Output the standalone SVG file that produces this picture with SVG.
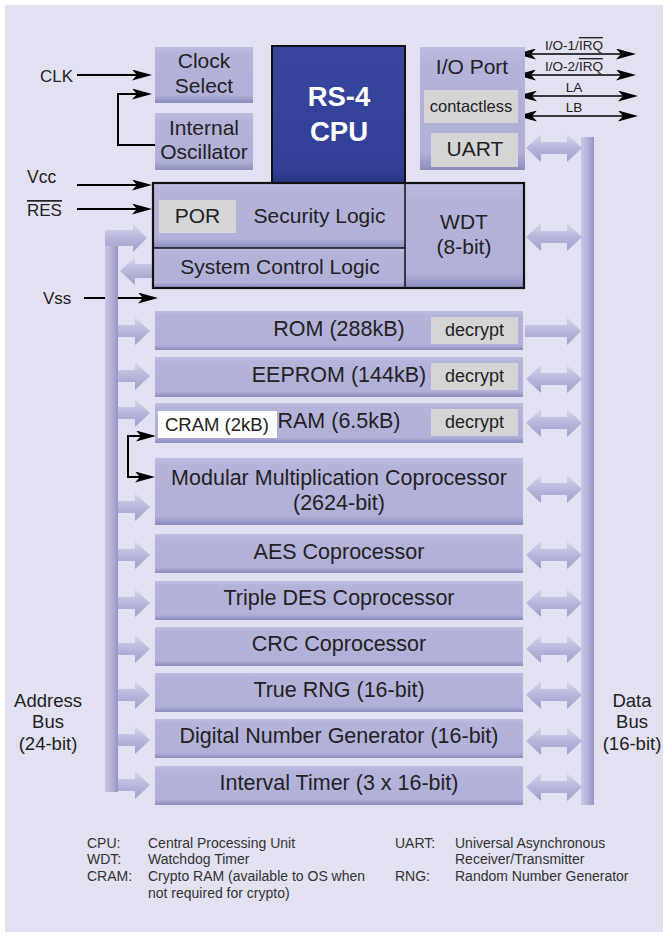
<svg xmlns="http://www.w3.org/2000/svg" width="668" height="937" viewBox="0 0 668 937">
<defs>
<linearGradient id="gBlk" x1="0" y1="0" x2="0" y2="1">
<stop offset="0" stop-color="#bebee1"/>
<stop offset="0.12" stop-color="#b4b4da"/>
<stop offset="0.86" stop-color="#b0b0d8"/>
<stop offset="1" stop-color="#8c8cbe"/>
</linearGradient>
<linearGradient id="gBus" x1="0" y1="0" x2="1" y2="0">
<stop offset="0" stop-color="#c8c8e6"/>
<stop offset="0.5" stop-color="#b3b3d9"/>
<stop offset="1" stop-color="#9494c4"/>
</linearGradient>
<linearGradient id="gArr" x1="0" y1="0" x2="0" y2="1">
<stop offset="0" stop-color="#d6d6ed"/>
<stop offset="0.45" stop-color="#babadd"/>
<stop offset="1" stop-color="#9e9ecb"/>
</linearGradient>
<linearGradient id="gCpu" x1="0" y1="0" x2="0" y2="1">
<stop offset="0" stop-color="#3a47a0"/>
<stop offset="0.9" stop-color="#313e96"/>
<stop offset="1" stop-color="#27337f"/>
</linearGradient>
<marker id="ah" markerUnits="userSpaceOnUse" markerWidth="20" markerHeight="11" refX="16" refY="5.5" orient="auto-start-reverse">
<path d="M0,0 L20,5.5 L0,11 L5,5.5 Z" fill="#000"/>
</marker>
<path id="dbl" d="M0,0 L15,-14 L15,-6 L41,-6 L41,-14 L56,0 L41,14 L41,6 L15,6 L15,14 Z"/>
<path id="rgt" d="M0,-6 L17,-6 L17,-14 L32,0 L17,14 L17,6 L0,6 Z"/>
<path id="rgtL" d="M0,-6 L42,-6 L42,-14 L56,0 L42,14 L42,6 L0,6 Z"/>
<path id="lft" d="M0,0 L15,-14 L15,-7 L33,-7 L33,7 L15,7 L15,14 Z"/>
</defs>
<style>
.bg{fill:#e1e1f1}
.blk{fill:url(#gBlk)}
.gry{fill:#d5d5d5}
.bus{fill:url(#gBus)}
.arr{fill:url(#gArr)}
text{font-family:"Liberation Sans",Arial,Helvetica,sans-serif;fill:#222}
.b{font-size:21px;text-anchor:middle}
.r{font-size:21.5px;text-anchor:middle}
.m{text-anchor:middle}
.ln{stroke:#000;stroke-width:2;fill:none;marker-end:url(#ah)}
.sig{stroke:#000;stroke-width:1.3;fill:none;marker-start:url(#ah);marker-end:url(#ah)}
.lg{font-size:14px;fill:#333}
.ol{text-decoration:overline}
</style>

<rect class="bg" x="5" y="5" width="658" height="927"/>

<g id="connectors">
<line class="ln" x1="77" y1="75" x2="148" y2="75"/>
<path class="ln" d="M155,145 L118,145 L118,94 L148,94"/>
<line class="ln" x1="77" y1="185" x2="148" y2="185"/>
<line class="ln" x1="77" y1="209" x2="148" y2="209"/>
<line class="ln" x1="84" y1="298" x2="154" y2="298"/>
<path class="ln" d="M152,436 L128,436 L128,477 L151,477" style="marker-start:url(#ah)"/>
<line class="sig" x1="520" y1="54" x2="632" y2="54"/>
<line class="sig" x1="520" y1="75" x2="632" y2="75"/>
<line class="sig" x1="521" y1="96" x2="634" y2="96"/>
<line class="sig" x1="521" y1="116" x2="634" y2="116"/>
<text x="574" y="50" class="m" font-size="13.5">I/O-1/<tspan class="ol">IRQ</tspan></text>
<text x="574" y="71" class="m" font-size="13.5">I/O-2/<tspan class="ol">IRQ</tspan></text>
<text x="574" y="92" class="m" font-size="13.5">LA</text>
<text x="574" y="112" class="m" font-size="13.5">LB</text>
</g>

<g id="pins">
<text x="40" y="82" font-size="17">CLK</text>
<text x="27" y="183" font-size="17.5">Vcc</text>
<text x="27" y="216" font-size="17" class="ol">RES</text>
<text x="43" y="304" font-size="17">Vss</text>
</g>

<g id="address-bus">
<rect class="bus" x="105" y="230" width="13" height="562"/>
<path class="arr" d="M105,230 L133,230 L133,224 L147,238 L133,252 L133,246 L105,246 Z"/>
<use href="#lft" class="arr" x="120" y="271"/>
<use href="#rgt" class="arr" x="118" y="331"/>
<use href="#rgt" class="arr" x="118" y="376"/>
<use href="#rgt" class="arr" x="118" y="413"/>
<use href="#rgt" class="arr" x="118" y="507"/>
<use href="#rgt" class="arr" x="118" y="555"/>
<use href="#rgt" class="arr" x="118" y="603"/>
<use href="#rgt" class="arr" x="118" y="649"/>
<use href="#rgt" class="arr" x="118" y="695"/>
<use href="#rgt" class="arr" x="118" y="740"/>
<use href="#rgt" class="arr" x="118" y="785"/>
<text x="48" y="707" font-size="18.5" class="m">Address</text>
<text x="48" y="728" font-size="18.5" class="m">Bus</text>
<text x="48" y="750" font-size="18.5" class="m">(24-bit)</text>
</g>

<g id="data-bus">
<rect class="bus" x="581" y="137" width="13" height="668"/>
<use href="#dbl" class="arr" x="526" y="148"/>
<use href="#dbl" class="arr" x="526" y="237"/>
<use href="#rgtL" class="arr" x="525" y="331"/>
<use href="#dbl" class="arr" x="526" y="379"/>
<use href="#dbl" class="arr" x="526" y="423"/>
<use href="#dbl" class="arr" x="526" y="489"/>
<use href="#dbl" class="arr" x="526" y="555"/>
<use href="#dbl" class="arr" x="526" y="603"/>
<use href="#dbl" class="arr" x="526" y="649"/>
<use href="#dbl" class="arr" x="526" y="695"/>
<use href="#dbl" class="arr" x="526" y="741"/>
<use href="#dbl" class="arr" x="526" y="787"/>
<text x="632" y="707" font-size="18.5" class="m">Data</text>
<text x="632" y="728" font-size="18.5" class="m">Bus</text>
<text x="632" y="750" font-size="18.5" class="m">(16-bit)</text>
</g>

<g id="clock-select">
<rect class="blk" x="155" y="47" width="98" height="56"/>
<text x="204" y="68" class="b">Clock</text>
<text x="204" y="93" class="b">Select</text>
</g>
<g id="internal-oscillator">
<rect class="blk" x="155" y="113" width="98" height="57"/>
<text x="204" y="135" class="b">Internal</text>
<text x="204" y="159" class="b">Oscillator</text>
</g>

<g id="cpu">
<rect x="272" y="46" width="133" height="138" fill="url(#gCpu)" stroke="#111" stroke-width="2"/>
<text x="339" y="106" font-size="27.5" font-weight="bold" class="m" style="fill:#fff">RS-4</text>
<text x="339" y="141" font-size="27.5" font-weight="bold" class="m" style="fill:#fff">CPU</text>
</g>

<g id="io-port">
<rect class="blk" x="420" y="47" width="105" height="123"/>
<text x="472" y="74" class="b">I/O Port</text>
<rect class="gry" x="424" y="90" width="94" height="33"/>
<text x="471" y="112" font-size="16.5" class="m">contactless</text>
<rect class="gry" x="431" y="133" width="87" height="34"/>
<text x="475" y="156" class="b">UART</text>
</g>

<g id="security-block">
<rect class="blk" x="153" y="183" width="252" height="65"/>
<rect class="blk" x="153" y="248" width="252" height="40"/>
<rect class="blk" x="405" y="183" width="119" height="105"/>
<rect class="gry" x="159" y="200" width="77" height="33"/>
<text x="197.5" y="223" class="b">POR</text>
<text x="319.5" y="223" class="b">Security Logic</text>
<text x="280" y="274" class="b">System Control Logic</text>
<text x="464" y="229" class="b">WDT</text>
<text x="464" y="254" class="b">(8-bit)</text>
<line x1="153" y1="248" x2="405" y2="248" stroke="#111" stroke-width="1.5"/>
<line x1="405" y1="183" x2="405" y2="288" stroke="#111" stroke-width="1.5"/>
<rect x="153" y="183" width="371" height="105" fill="none" stroke="#111" stroke-width="2.2"/>
</g>

<g id="rom">
<rect class="blk" x="155" y="311" width="368" height="39"/>
<text x="339" y="336" class="r">ROM (288kB)</text>
<rect class="gry" x="431" y="317" width="87" height="27"/>
<text x="474.5" y="336" font-size="18" class="m">decrypt</text>
</g>
<g id="eeprom">
<rect class="blk" x="155" y="357" width="368" height="40"/>
<text x="339" y="382" class="r">EEPROM (144kB)</text>
<rect class="gry" x="431" y="363" width="87" height="27"/>
<text x="474.5" y="382" font-size="18" class="m">decrypt</text>
</g>
<g id="ram">
<rect class="blk" x="155" y="403" width="368" height="40"/>
<text x="339" y="428" class="r">RAM (6.5kB)</text>
<rect class="gry" x="431" y="409" width="87" height="27"/>
<text x="474.5" y="428" font-size="18" class="m">decrypt</text>
<rect x="158" y="411" width="119" height="27" fill="#fff"/>
<text x="165" y="431" font-size="18.5">CRAM (2kB)</text>
</g>
<g id="mmc">
<rect class="blk" x="155" y="458" width="368" height="67"/>
<text x="339" y="485" class="r">Modular Multiplication Coprocessor</text>
<text x="339" y="510" class="r">(2624-bit)</text>
</g>
<g id="aes">
<rect class="blk" x="155" y="534" width="368" height="39"/>
<text x="339" y="559" class="r">AES Coprocessor</text>
</g>
<g id="tdes">
<rect class="blk" x="155" y="581" width="368" height="39"/>
<text x="339" y="605" class="r">Triple DES Coprocessor</text>
</g>
<g id="crc">
<rect class="blk" x="155" y="627" width="368" height="39"/>
<text x="339" y="651" class="r">CRC Coprocessor</text>
</g>
<g id="trng">
<rect class="blk" x="155" y="673" width="368" height="39"/>
<text x="339" y="697" class="r">True RNG (16-bit)</text>
</g>
<g id="dng">
<rect class="blk" x="155" y="719" width="368" height="39"/>
<text x="339" y="743" class="r">Digital Number Generator (16-bit)</text>
</g>
<g id="timer">
<rect class="blk" x="155" y="766" width="368" height="39"/>
<text x="339" y="790" class="r">Interval Timer (3 x 16-bit)</text>
</g>

<g id="legend">
<text x="87" y="848" class="lg">CPU:</text>
<text x="148" y="848" class="lg">Central Processing Unit</text>
<text x="87" y="864" class="lg">WDT:</text>
<text x="148" y="864" class="lg">Watchdog Timer</text>
<text x="87" y="881" class="lg">CRAM:</text>
<text x="148" y="881" class="lg">Crypto RAM (available to OS when</text>
<text x="148" y="898" class="lg">not required for crypto)</text>
<text x="395" y="848" class="lg">UART:</text>
<text x="455" y="848" class="lg">Universal Asynchronous</text>
<text x="455" y="864" class="lg">Receiver/Transmitter</text>
<text x="395" y="881" class="lg">RNG:</text>
<text x="455" y="881" class="lg">Random Number Generator</text>
</g>
</svg>
